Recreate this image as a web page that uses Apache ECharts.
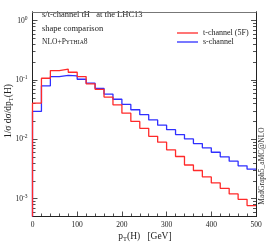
<!DOCTYPE html>
<html><head><meta charset="utf-8">
<script src="https://cdn.jsdelivr.net/npm/echarts@6/dist/echarts.min.js"></script>
<style>html,body{margin:0;padding:0;background:#fff}#c{width:270px;height:243px}</style>
</head><body><div id="c"></div>
<script>
// bin lower edges (GeV), 20 GeV bins from 0 to 500
const binEdges = [0,20,40,60,80,100,120,140,160,180,200,220,240,260,280,300,320,340,360,380,400,420,440,460,480,500];
const tChannel = [0.0408,0.107,0.144,0.152,0.135,0.114,0.0861,0.0695,0.0515,0.0382,0.0276,0.0200,0.01535,0.01122,0.00894,0.00664,0.00513,0.00369,0.00298,0.00232,0.00184,0.00149,0.00120,0.000973,0.000763];
const sChannel = [0.0295,0.0796,0.114,0.120,0.117,0.103,0.0884,0.0723,0.0578,0.0474,0.0387,0.0315,0.0260,0.0212,0.0173,0.01455,0.0120,0.01016,0.00847,0.00718,0.00605,0.00507,0.00428,0.00358,0.00314];
const xTicks = [0,100,200,300,400,500];
const yMajor = [0.001,0.01,0.1,1];
const seriesNames = ['t-channel (5F)','s-channel'];
const yMin = 0.0005, yMax = 1.4;

const yMinor = [];
[0.0001,0.001,0.01,0.1].forEach(d=>{for(let k=2;k<=9;k++){const v=+(d*k).toPrecision(3); if(v>yMin&&v<yMax) yMinor.push(v);}});

function stepData(vals){
  const out=[[binEdges[0],yMin]];
  for(let i=0;i<vals.length;i++) out.push([binEdges[i],vals[i]]);
  out.push([binEdges[binEdges.length-1],vals[vals.length-1]]);
  return out;
}
const serif='Liberation Serif';
const chart=echarts.init(document.getElementById('c'),null,{renderer:'canvas'});
const grid={left:32.5,right:14,top:12,bottom:26.5};
function yAx(pos,ticks,len,labels){
  return {type:'log',logBase:10,min:yMin,max:yMax,position:pos,
    axisLine:{show:true,lineStyle:{color:'#222',width:1}},
    splitLine:{show:false},
    axisTick:{show:true,inside:true,length:len,customValues:ticks,lineStyle:{color:'#222',width:0.8}},
    axisLabel:labels?{show:true,customValues:yMajor,margin:5,fontFamily:serif,fontSize:7.5,color:'#222',
      formatter:v=>'10{s|'+Math.round(Math.log10(v))+'}',
      rich:{s:{fontSize:5.5,verticalAlign:'top',padding:[0,0,5,0],fontFamily:serif,color:'#222'}}}:{show:false}};
}
chart.setOption({
  animation:false,
  grid:grid,
  xAxis:[{type:'value',min:0,max:500,interval:100,position:'bottom',
    axisLine:{lineStyle:{color:'#222',width:1}},splitLine:{show:false},
    axisTick:{inside:true,length:5,lineStyle:{color:'#222',width:0.8}},
    minorTick:{show:true,splitNumber:5,length:3,lineStyle:{color:'#222',width:0.8}},
    axisLabel:{margin:5,fontFamily:serif,fontSize:7.5,color:'#222',customValues:xTicks}},
   {type:'value',min:0,max:500,position:'top',axisLine:{lineStyle:{color:'#777',width:1.2}},
    axisTick:{show:false},axisLabel:{show:false},splitLine:{show:false}}],
  yAxis:[yAx('left',yMajor,5,true),yAx('left',yMinor,3,false),yAx('right',yMajor,5,false),yAx('right',yMinor,3,false)],
  series:[
    {name:seriesNames[0],type:'line',step:'end',data:stepData(tChannel),showSymbol:false,xAxisIndex:0,yAxisIndex:0,
     lineStyle:{color:'#ff2a2a',width:1.3},z:3},
    {name:seriesNames[1],type:'line',step:'end',data:stepData(sChannel),showSymbol:false,xAxisIndex:0,yAxisIndex:0,
     lineStyle:{color:'#2f2fff',width:1.3},z:2}
  ],
  graphic:[
    {type:'text',left:42,top:10.5,style:{text:'s/t-channel tH   at the LHC13',font:'8.5px "Liberation Serif"',fill:'#222'}},
    {type:'text',left:42,top:24.5,style:{text:'shape comparison',font:'8.5px "Liberation Serif"',fill:'#222'}},
    {type:'text',left:42,top:38,style:{rich:{a:{fontSize:7.5,fontFamily:serif,fill:'#222'},b:{fontSize:5.8,fontFamily:serif,fill:'#222'}},
      text:'{a|NLO+P}{b|YTHIA}{a|8}'}},
    {type:'line',shape:{x1:177,y1:33,x2:198,y2:33},style:{stroke:'#ff2a2a',lineWidth:1.3}},
    {type:'line',shape:{x1:177,y1:42,x2:198,y2:42},style:{stroke:'#2f2fff',lineWidth:1.3}},
    {type:'text',left:203,top:28.5,style:{text:seriesNames[0],font:'8px "Liberation Serif"',fill:'#222'}},
    {type:'text',left:203,top:37.5,style:{text:seriesNames[1],font:'8px "Liberation Serif"',fill:'#222'}},
    {type:'text',x:8,y:111,rotation:Math.PI/2,style:{align:'center',verticalAlign:'middle',
      rich:{a:{fontSize:9.5,fontFamily:serif,fill:'#222'},b:{fontSize:6.5,fontFamily:serif,fill:'#222',padding:[6,0,0,0]}},
      text:'{a|1/σ dσ/dp}{b|T}{a|(H)}'}},
    {type:'text',x:145,y:236,style:{align:'center',verticalAlign:'middle',
      rich:{a:{fontSize:9.5,fontFamily:serif,fill:'#222'},b:{fontSize:6.5,fontFamily:serif,fill:'#222',padding:[6,0,0,0]}},
      text:'{a|p}{b|T}{a|(H)   [GeV]}'}},
    {type:'text',x:262,y:166,rotation:Math.PI/2,style:{align:'center',verticalAlign:'middle',
      text:'MadGraph5_aMC@NLO',font:'7.5px "Liberation Serif"',fill:'#333'}}
  ]
});
</script></body></html>
